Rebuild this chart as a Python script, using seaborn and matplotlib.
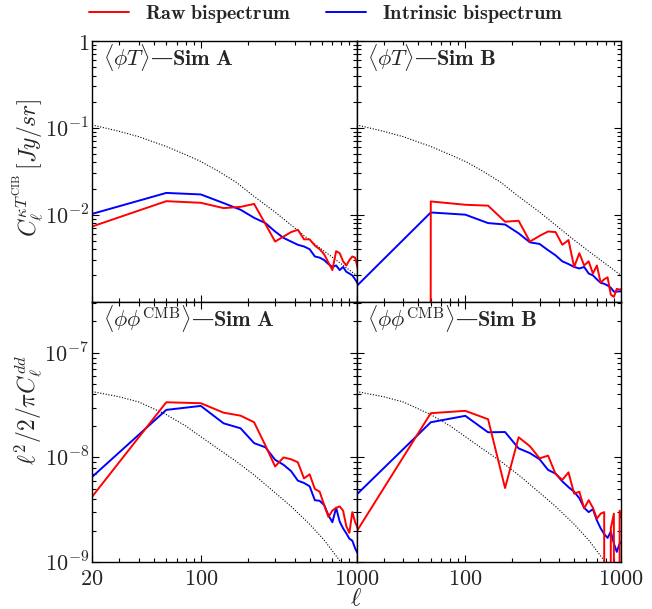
import numpy as np
import matplotlib
matplotlib.use("Agg")
import matplotlib.pyplot as plt
import seaborn as sns
from matplotlib.lines import Line2D
from matplotlib.ticker import FixedLocator, FixedFormatter, LogLocator, NullFormatter

# ---------------- data ----------------
ell = [20, 60, 100, 140, 180, 220, 260, 300, 340, 380, 420, 460, 500, 540, 580,
       620, 660, 700, 740, 780, 820, 860, 900, 940, 980, 1020]

# <phi T> Sim A
tA_raw = [0.0073, 0.0143, 0.0137, 0.0119, 0.0123, 0.0133, 0.0078, 0.0049, 0.0056, 0.0063,
          0.0067, 0.0052, 0.0052, 0.0044, 0.0040, 0.0035, 0.0028, 0.0023, 0.0038, 0.0036,
          0.0029, 0.0026, 0.0030, 0.0033, 0.0032, 0.0024]
tA_int = [0.0102, 0.0178, 0.0171, 0.0136, 0.0114, 0.0092, 0.0080, 0.0064, 0.0054, 0.0049,
          0.0045, 0.0043, 0.0040, 0.0033, 0.0032, 0.0030, 0.0027, 0.0025, 0.0026, 0.0023,
          0.0025, 0.0022, 0.0021, 0.0020, 0.0018, 0.0016]
# <phi T> Sim B
tB_raw = [-0.002, 0.0142, 0.0130, 0.0127, 0.0083, 0.0085, 0.0049, 0.0057, 0.0064, 0.0063,
          0.0045, 0.0051, 0.0025, 0.0036, 0.0026, 0.0029, 0.0021, 0.0026, 0.00165, 0.0018,
          0.0019, 0.0012, 0.00113, 0.0014, 0.00137, 0.0014]
tB_int = [0.0015, 0.0106, 0.0100, 0.0080, 0.0077, 0.0061, 0.0048, 0.0046, 0.0039, 0.0034,
          0.0029, 0.0027, 0.0025, 0.0024, 0.0025, 0.0021, 0.0020, 0.0018, 0.00164, 0.0016,
          0.00153, 0.00144, 0.0013, 0.0013, 0.00131, 0.0013]
# <phi phi^CMB> Sim A
bA_raw = [4.2e-9, 3.37e-8, 3.30e-8, 2.68e-8, 2.51e-8, 2.17e-8, 1.3e-8, 8.2e-9, 1.0e-8, 9.6e-9,
          9.0e-9, 6.3e-9, 6.9e-9, 5.0e-9, 4.7e-9, 3.5e-9, 2.7e-9, 3.1e-9, 3.3e-9, 3.4e-9,
          3.1e-9, 2.2e-9, 1.9e-9, 3.0e-9, 2.4e-9, 2.1e-9]
bA_int = [6.5e-9, 2.85e-8, 3.11e-8, 2.12e-8, 1.9e-8, 1.37e-8, 1.25e-8, 9.5e-9, 8.5e-9, 7.4e-9,
          6.0e-9, 5.7e-9, 5.3e-9, 3.9e-9, 3.85e-9, 3.5e-9, 2.8e-9, 2.4e-9, 3.3e-9, 2.43e-9,
          2.1e-9, 1.88e-9, 1.67e-9, 1.6e-9, 1.35e-9, 1.2e-9]
# <phi phi^CMB> Sim B
bB_raw = [1.95e-9, 2.65e-8, 2.79e-8, 2.32e-8, 5.1e-9, 1.56e-8, 1.28e-8, 9.8e-9, 1.04e-8, 6.95e-9,
          6.1e-9, 7.2e-9, 4.5e-9, 4.7e-9, 3.26e-9, 3.9e-9, 3.3e-9, 2.6e-9, 2.9e-9, 3.0e-9,
          -1e-9, 2.1e-9, 2.9e-9, -1e-9, 3.1e-9, 2.5e-9]
bB_int = [4.4e-9, 2.17e-8, 2.5e-8, 1.74e-8, 1.75e-8, 1.22e-8, 1.1e-8, 9.6e-9, 7.6e-9, 7.0e-9,
          5.9e-9, 5.2e-9, 4.7e-9, 4.07e-9, 3.3e-9, 3.0e-9, 3.2e-9, 2.5e-9, 2.1e-9, 1.85e-9,
          1.7e-9, 1.95e-9, 1.5e-9, 1.25e-9, 1.5e-9, 1.6e-9]

# theory curves (dotted)
theory_ell = [20, 30, 40, 60, 80, 100, 130, 170, 220, 300, 380, 500, 620, 800, 1000, 1100]
theory_top = [0.108, 0.091, 0.079, 0.061, 0.049, 0.041, 0.0316, 0.0234, 0.0162, 0.0107,
              0.0076, 0.0051, 0.0038, 0.0027, 0.0020, 0.00174]
theory_bot = [4.27e-8, 3.8e-8, 3.39e-8, 2.57e-8, 2.0e-8, 1.58e-8, 1.2e-8, 9.1e-9, 6.8e-9,
              4.6e-9, 3.4e-9, 2.3e-9, 1.62e-9, 9.8e-10, 5.8e-10, 4.6e-10]

panel_titles = [[r"$\langle\phi T\rangle$—$\mathbf{Sim\ A}$", r"$\langle\phi T\rangle$—$\mathbf{Sim\ B}$"],
                [r"$\langle\phi\phi^{\rm CMB}\rangle$—$\mathbf{Sim\ A}$",
                 r"$\langle\phi\phi^{\rm CMB}\rangle$—$\mathbf{Sim\ B}$"]]
legend_labels = [r"$\mathbf{Raw\ bispectrum}$", r"$\mathbf{Intrinsic\ bispectrum}$"]
ylabels = [r"$C_\ell^{\kappa T^{\rm CIB}}\,[Jy/sr]$", r"$\ell^2/2/\pi C_\ell^{dd}$"]

xticks = [20, 100, 1000]
xticklabels_left = [r"$20$", r"$100$", r"$1000$"]
xticklabels_right = ["", r"$100$", r"$1000$"]
yticks_top = [1e-3, 1e-2, 1e-1, 1]
yticklabels_top = ["", r"$10^{-2}$", r"$10^{-1}$", r"$1$"]
yticks_bot = [1e-9, 1e-8, 1e-7]
yticklabels_bot = [r"$10^{-9}$", r"$10^{-8}$", r"$10^{-7}$"]

# ---------------- style ----------------
sns.set_style("ticks")
plt.rcParams["mathtext.fontset"] = "cm"
plt.rcParams["font.family"] = ["DejaVu Serif"]
plt.rcParams["axes.unicode_minus"] = False

RED = "#ff0000"
BLUE = "#0000ff"

fig = plt.figure(figsize=(6.52, 6.09), dpi=100)
axes = fig.subplots(2, 2, gridspec_kw=dict(wspace=0, hspace=0))
fig.subplots_adjust(left=92 / 652, right=621 / 652, top=1 - 41 / 609, bottom=1 - 562 / 609)

data = [[(tA_raw, tA_int, theory_top), (tB_raw, tB_int, theory_top)],
        [(bA_raw, bA_int, theory_bot), (bB_raw, bB_int, theory_bot)]]

for i in range(2):
    for j in range(2):
        ax = axes[i, j]
        raw, intr, th = data[i][j]
        sns.lineplot(x=theory_ell, y=th, ax=ax, color="k", lw=0.8, ls=(0, (1, 1.5)),
                     estimator=None, sort=False, legend=False)
        sns.lineplot(x=ell, y=intr, ax=ax, color=BLUE, lw=1.4,
                     estimator=None, sort=False, legend=False)
        sns.lineplot(x=ell, y=raw, ax=ax, color=RED, lw=1.4,
                     estimator=None, sort=False, legend=False)
        ax.set_xscale("log")
        ax.set_yscale("log", nonpositive="clip")
        ax.set_xlim(20, 1000)
        if i == 0:
            ax.set_ylim(1e-3, 1)
        else:
            ax.set_ylim(1e-9, 3.1e-7)
        # ticks
        ax.xaxis.set_major_locator(FixedLocator(xticks))
        ax.xaxis.set_major_formatter(FixedFormatter(xticklabels_left if j == 0 else xticklabels_right))
        ax.xaxis.set_minor_locator(LogLocator(base=10, subs=np.arange(2, 10), numticks=20))
        ax.xaxis.set_minor_formatter(NullFormatter())
        if i == 0:
            ax.yaxis.set_major_locator(FixedLocator(yticks_top))
            ax.yaxis.set_major_formatter(FixedFormatter(yticklabels_top))
        else:
            ax.yaxis.set_major_locator(FixedLocator(yticks_bot))
            ax.yaxis.set_major_formatter(FixedFormatter(yticklabels_bot))
        ax.yaxis.set_minor_locator(LogLocator(base=10, subs=np.arange(2, 10), numticks=20))
        ax.yaxis.set_minor_formatter(NullFormatter())
        ax.tick_params(which="both", direction="in", top=True, right=True,
                       labelsize=16, width=0.8, color="k")
        ax.tick_params(which="major", length=5)
        ax.tick_params(which="minor", length=3)
        ax.tick_params(axis="x", pad=4)
        ax.tick_params(axis="y", pad=2)
        if i == 0:
            ax.tick_params(labelbottom=False)
        if j == 1:
            ax.tick_params(labelleft=False)
        for s in ax.spines.values():
            s.set_linewidth(1.0)
            s.set_color("k")
        ax.set_xlabel("")
        ax.set_ylabel("")
        ax.text(0.04, 0.935, panel_titles[i][j], transform=ax.transAxes,
                fontsize=16, ha="left", va="center")

fig.text(28 / 652, 1 - 168 / 609, ylabels[0], fontsize=17, rotation=90,
         ha="center", va="center")
fig.text(28 / 652, 1 - 410 / 609, ylabels[1], fontsize=17, rotation=90,
         ha="center", va="center")

fig.text(356 / 652, 1 - 599 / 609, r"$\ell$", fontsize=18, ha="center", va="center")

handles = [Line2D([], [], color=RED, lw=1.4), Line2D([], [], color=BLUE, lw=1.4)]
fig.legend(handles, legend_labels, loc="center", bbox_to_anchor=(0.5, 1 - 14 / 609),
           ncol=2, frameon=False, fontsize=14.5, handlelength=2.0, handletextpad=0.8,
           columnspacing=1.7)

fig.savefig("out.png", dpi=100)
